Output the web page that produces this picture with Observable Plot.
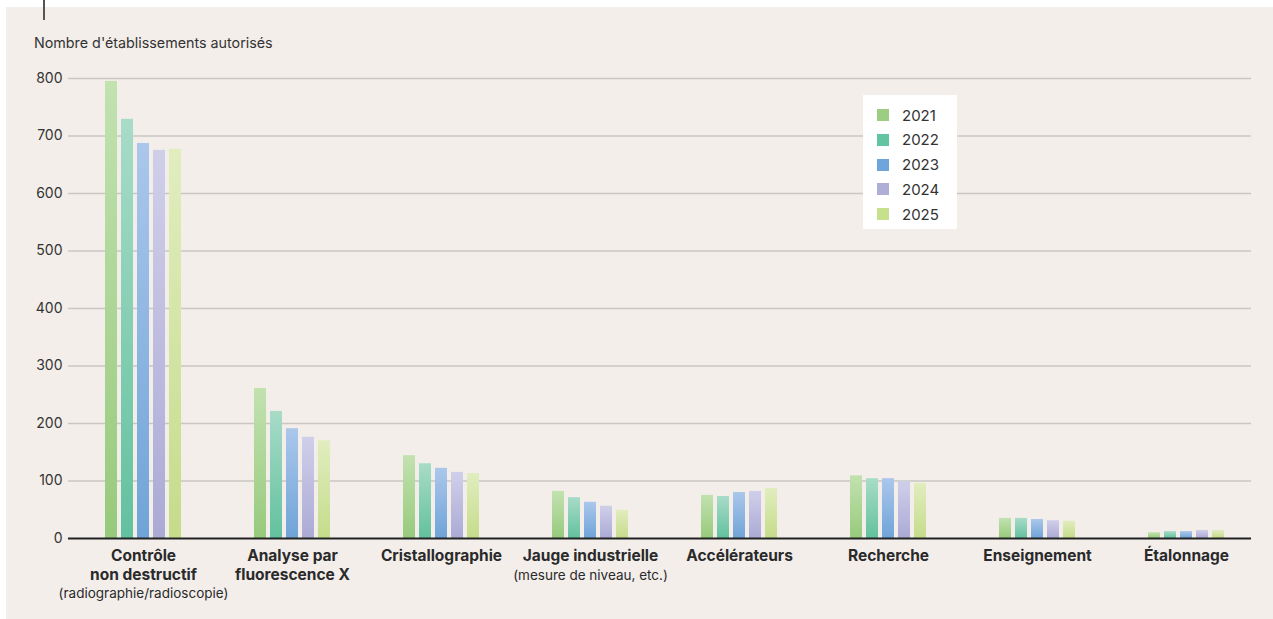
<!DOCTYPE html>
<html><head><meta charset="utf-8">
<script src="https://cdn.jsdelivr.net/npm/d3@7"></script>
<script src="https://cdn.jsdelivr.net/npm/@observablehq/plot@0.6"></script>
<style>
html,body{margin:0;padding:0;background:#fff;}
#wrap{position:relative;width:1273px;height:619px;overflow:hidden;font-family:Inter,"Liberation Sans",sans-serif;}
#panel{position:absolute;left:6px;top:7px;width:1267px;height:612px;background:#f3eeea;}
#mark{position:absolute;left:43px;top:0;width:2px;height:20px;background:#555;}
#ytitle{position:absolute;left:34px;top:35px;font-size:14.3px;line-height:16px;color:#333;white-space:nowrap;}
.layer{position:absolute;left:0;top:0;}
#legend{position:absolute;left:863px;top:95px;width:94px;height:134px;background:#fff;}
.li{position:absolute;left:14px;height:12px;display:flex;align-items:center;font-size:15px;color:#333;white-space:nowrap;}
.sw{width:12px;height:12px;margin-right:13px;flex:none;}
</style>
</head><body>
<div id="wrap">
  <div id="panel"></div>
  <div id="mark"></div>
  <div id="ytitle">Nombre d'établissements autorisés</div>
  <div id="back" class="layer"></div>
  <div id="bars" class="layer"></div>
  <div id="front" class="layer"></div>
  <div id="legend"></div>
</div>
<script>
const categories = ["Contrôle non destructif", "Analyse par fluorescence X", "Cristallographie", "Jauge industrielle", "Accélérateurs", "Recherche", "Enseignement", "Étalonnage"];
const mainLabels = ["Contrôle\nnon destructif", "Analyse par\nfluorescence X", "Cristallographie", "Jauge industrielle", "Accélérateurs", "Recherche", "Enseignement", "Étalonnage"];
const subLabels = ["(radiographie/radioscopie)", "", "", "(mesure de niveau, etc.)", "", "", "", ""];
const years = ["2021", "2022", "2023", "2024", "2025"];
const v2021 = [795, 261, 144, 82, 75, 109, 35, 10];
const v2022 = [729, 221, 130, 71, 73, 104, 35, 12];
const v2023 = [687, 191, 122, 63, 80, 104, 33, 12];
const v2024 = [675, 176, 115, 56, 82, 99, 31, 14];
const v2025 = [677, 170, 113, 49, 87, 96, 30, 14];
const yTicks = [0, 100, 200, 300, 400, 500, 600, 700, 800];
const swatchColors = ["#9ccd80", "#62c5a2", "#6fa5da", "#aeaed6", "#c6e08c"];
const gradTop = ["#c2e2b0", "#a8dcc8", "#abc7eb", "#d0cfea", "#e1edbf"];
const gradBottom = ["#97ca7c", "#62c19e", "#6fa4d8", "#abaad5", "#c5dc8a"];

const seriesValues = [v2021, v2022, v2023, v2024, v2025];
const data = [];
categories.forEach((c, i) => years.forEach((y, j) => data.push({category: c, year: y, value: seriesValues[j][i]})));
const labelData = categories.map((c, i) => ({category: c, main: mainLabels[i], sub: subLabels[i], lines: mainLabels[i].split("\n").length}));

const common = {
  width: 1273,
  height: 619,
  marginLeft: 67,
  marginRight: 12,
  marginTop: 78,
  marginBottom: 81,
  style: {background: "transparent", fontFamily: "Inter, 'Liberation Sans', sans-serif"},
  y: {domain: [0, 800], axis: null}
};

// Background layer: grid and y tick labels
const back = Plot.plot({
  ...common,
  x: {axis: null},
  marks: [
    Plot.ruleY(yTicks.filter(d => d > 0), {stroke: "#c9c6c3", strokeWidth: 1.6, insetLeft: 1, insetRight: 10}),
    Plot.text(yTicks, {y: d => d, text: d => String(d), frameAnchor: "left", textAnchor: "end", dx: -5, fontSize: 14, fill: "#333"})
  ]
});

// Bars layer: grouped bars faceted by category
const bars = Plot.plot({
  ...common,
  fx: {domain: categories, paddingInner: 0.464, paddingOuter: 0.232, axis: null, label: null},
  x: {domain: years, paddingInner: 0.25, paddingOuter: 0.125, axis: null},
  color: {type: "ordinal", domain: years, range: years.map(y => `url(#g${y})`)},
  marks: [
    Plot.barY(data, {fx: "category", x: "year", y: "value", fill: "year"}),
    Plot.text(labelData, {fx: "category", text: "main", frameAnchor: "bottom", lineAnchor: "top", dy: 9, lineHeight: 1.23, fontSize: 15.5, fontWeight: 700, fill: "#2a2a2a"}),
    Plot.text(labelData, {filter: d => d.sub && d.lines === 2, fx: "category", text: "sub", frameAnchor: "bottom", lineAnchor: "top", dy: 50, fontSize: 13.5, fill: "#2a2a2a"}),
    Plot.text(labelData, {filter: d => d.sub && d.lines === 1, fx: "category", text: "sub", frameAnchor: "bottom", lineAnchor: "top", dy: 32, fontSize: 13.5, fill: "#2a2a2a"})
  ]
});

// Front layer: baseline
const front = Plot.plot({
  ...common,
  x: {axis: null},
  marks: [
    Plot.ruleY([0], {stroke: "#222", strokeWidth: 2, insetLeft: 1, insetRight: 10})
  ]
});

const defs = d3.select(bars).insert("defs", ":first-child");
years.forEach((y, j) => {
  const g = defs.append("linearGradient").attr("id", `g${y}`).attr("x1", 0).attr("y1", 0).attr("x2", 0).attr("y2", 1);
  g.append("stop").attr("offset", "0%").attr("stop-color", gradTop[j]);
  g.append("stop").attr("offset", "100%").attr("stop-color", gradBottom[j]);
});
document.getElementById("back").appendChild(back);
document.getElementById("bars").appendChild(bars);
document.getElementById("front").appendChild(front);

const legend = document.getElementById("legend");
years.forEach((y, j) => {
  const row = document.createElement("div");
  row.className = "li";
  row.style.top = (14 + j * 24.75) + "px";
  row.innerHTML = `<div class="sw" style="background:${swatchColors[j]}"></div><span>${y}</span>`;
  legend.appendChild(row);
});
</script>
</body></html>
